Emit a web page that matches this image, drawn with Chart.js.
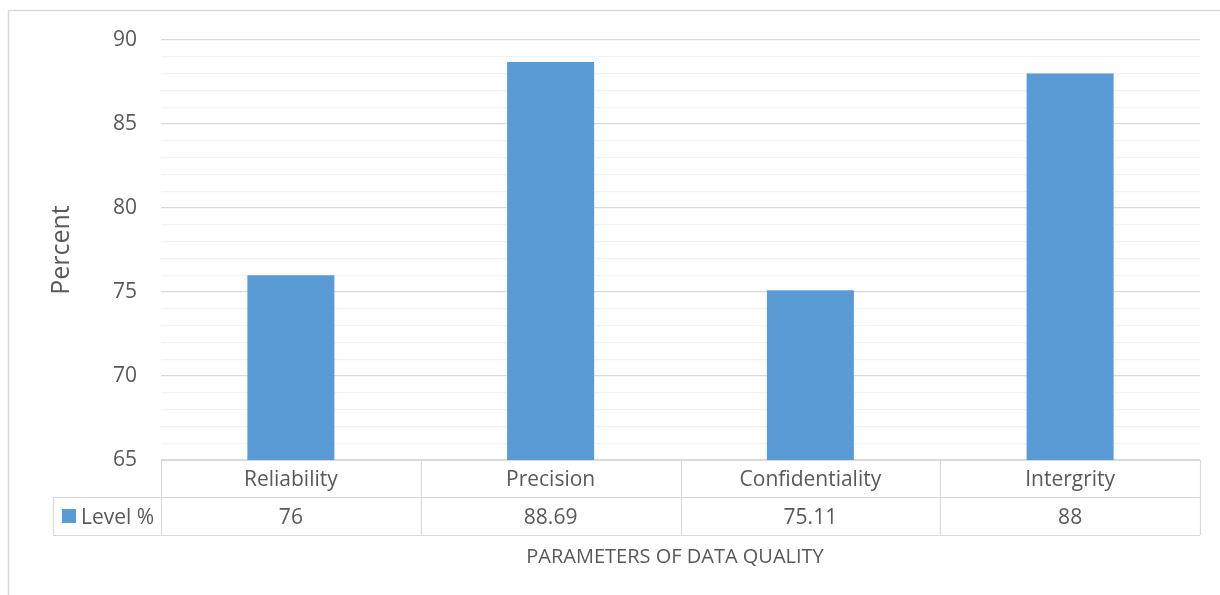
<!DOCTYPE html>
<html><head><meta charset="utf-8">
<script src="https://cdn.jsdelivr.net/npm/chart.js@4.4.0/dist/chart.umd.min.js"></script>
<style>html,body{margin:0;padding:0;background:#fff;}#wrap{width:1220px;height:595px;position:relative;}</style>
</head><body><div id="wrap"><canvas id="c" width="1220" height="595"></canvas></div>
<script>
const categories = ["Reliability", "Precision", "Confidentiality", "Intergrity"];
const seriesName = "Level %";
const levelValues = [76, 88.69, 75.11, 88];
const valueLabels = ["76", "88.69", "75.11", "88"];
const yMin = 65, yMax = 90;
const axisTitleY = "Percent";
const axisTitleX = "PARAMETERS OF DATA QUALITY";

const FONT = "'Open Sans', 'Noto Sans', sans-serif";
const TXT = "#595959";
const LINE = "#d9d9d9";

const tablePlugin = {
  id: 'tablePlugin',
  afterDraw(chart) {
    const ctx = chart.ctx, xs = chart.scales.x, ca = chart.chartArea;
    const n = categories.length;
    const step = (ca.right - ca.left) / n;
    const r0 = ca.bottom, r1 = ca.bottom + 37, r2 = ca.bottom + 75;
    const leftCol = 53;
    ctx.save();
    // outer border
    ctx.strokeStyle = LINE; ctx.lineWidth = 1.5;
    ctx.beginPath(); ctx.moveTo(8.5, 600); ctx.lineTo(8.5, 10.5); ctx.lineTo(1225, 10.5); ctx.stroke();
    ctx.lineWidth = 1.2;
    ctx.strokeStyle = LINE;
    ctx.beginPath();
    ctx.moveTo(ca.left, r0 + 0.5); ctx.lineTo(ca.right, r0 + 0.5);
    ctx.moveTo(leftCol, r1 + 0.5); ctx.lineTo(ca.right, r1 + 0.5);
    ctx.moveTo(leftCol, r2 + 0.5); ctx.lineTo(ca.right, r2 + 0.5);
    ctx.moveTo(leftCol + 0.5, r1); ctx.lineTo(leftCol + 0.5, r2);
    for (let i = 0; i <= n; i++) {
      const x = Math.round(ca.left + i * step) + 0.5;
      ctx.moveTo(x, r0); ctx.lineTo(x, r2);
    }
    ctx.stroke();
    ctx.fillStyle = TXT;
    ctx.font = "21px " + FONT;
    ctx.textAlign = 'center'; ctx.textBaseline = 'middle';
    categories.forEach((c, i) => {
      const x = xs.getPixelForValue(i);
      ctx.fillText(c, x, (r0 + r1) / 2 + 2);
      ctx.fillText(valueLabels[i], x, (r1 + r2) / 2 + 2);
    });
    // legend key
    ctx.fillStyle = "#5B9BD5";
    ctx.fillRect(62, 509, 14, 14);
    ctx.fillStyle = TXT; ctx.textAlign = 'left';
    ctx.fillText(seriesName, 81, (r1 + r2) / 2 + 2);
    // x axis title
    ctx.textAlign = 'center';
    ctx.font = "20px " + FONT;
    ctx.fillText(axisTitleX, 675, 557);
    ctx.restore();
  }
};

new Chart(document.getElementById('c'), {
  type: 'bar',
  data: {
    labels: categories,
    datasets: [{
      label: seriesName,
      data: levelValues,
      backgroundColor: "#5B9BD5",
      borderWidth: 0,
      categoryPercentage: 1,
      barPercentage: 0.335
    }]
  },
  options: {
    responsive: false,
    animation: false,
    layout: { padding: { top: 40, right: 20, bottom: 135, left: 0 } },
    plugins: { legend: { display: false }, tooltip: { enabled: false } },
    scales: {
      x: { display: false },
      y: {
        min: yMin, max: yMax,
        afterFit(s) { s.width = 161; },
        border: { display: false },
        grid: {
          drawTicks: false,
          color: (c) => (c.tick && c.tick.value % 5 === 0) ? LINE : "#f2f2f2",
          lineWidth: 1.2
        },
        ticks: {
          stepSize: 1,
          autoSkip: false,
          padding: 24,
          color: TXT,
          font: { size: 21, family: FONT },
          callback: (v) => (v % 5 === 0 ? String(v) : '')
        },
        title: {
          display: true, text: axisTitleY, color: TXT,
          font: { size: 25, family: FONT },
          padding: { top: 47, bottom: 0 }
        }
      }
    }
  },
  plugins: [tablePlugin]
});
</script></body></html>
